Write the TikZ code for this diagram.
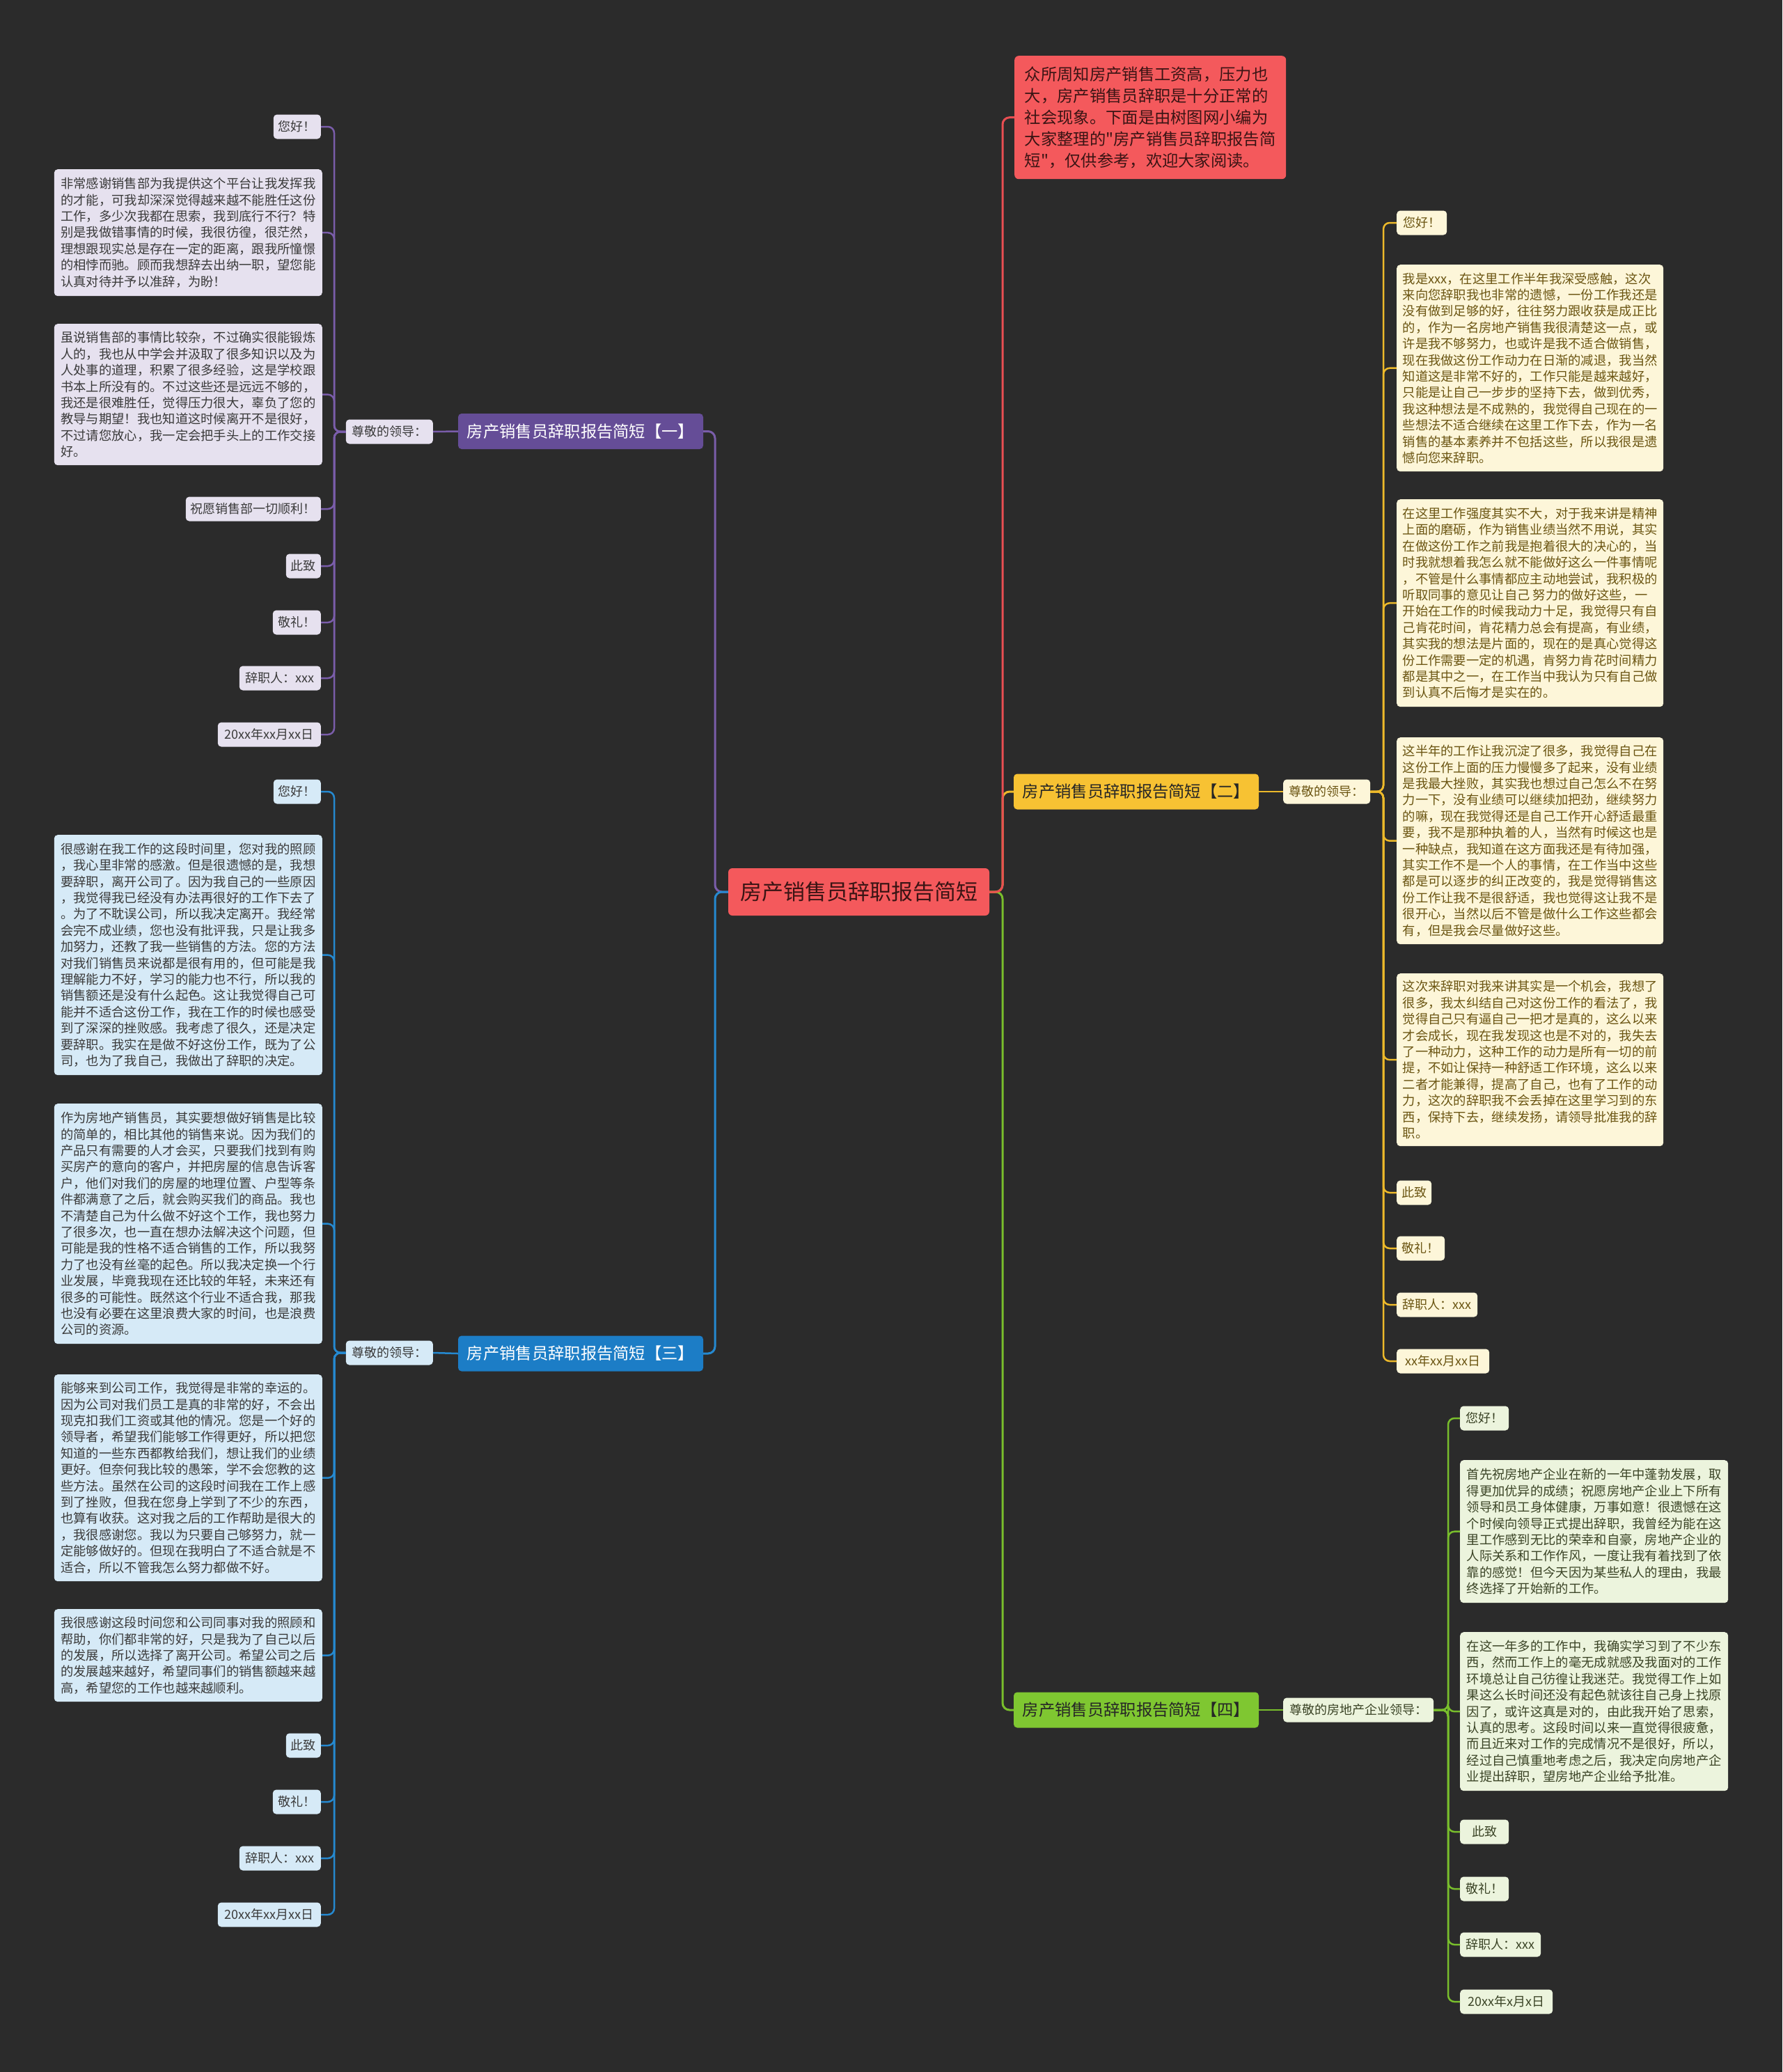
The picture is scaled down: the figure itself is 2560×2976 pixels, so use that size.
\documentclass[tikz,border=0pt]{standalone}
\usepackage{fontspec}
\newfontfamily\cjk{Noto Sans CJK SC}
\definecolor{bg}{HTML}{2B2B2B}
\definecolor{cred}{HTML}{F4595C}
\definecolor{credline}{HTML}{E84E52}
\definecolor{credtxt}{HTML}{3A1414}
\definecolor{cpur}{HTML}{654D97}
\definecolor{cpurline}{HTML}{7A5DAA}
\definecolor{cpurlt}{HTML}{E6E1EF}
\definecolor{cblu}{HTML}{1C7DC6}
\definecolor{cbluline}{HTML}{2589D0}
\definecolor{cblult}{HTML}{D6EAF7}
\definecolor{cyel}{HTML}{F7C233}
\definecolor{cyelline}{HTML}{EDB92A}
\definecolor{cyellt}{HTML}{FDF6D9}
\definecolor{cgrn}{HTML}{7FC731}
\definecolor{cgrnline}{HTML}{79BE2C}
\definecolor{cgrnlt}{HTML}{ECF4DD}
\definecolor{ctxt}{HTML}{3A3A3A}
\definecolor{cyeltxt}{HTML}{6B5512}
\definecolor{cgrntxt}{HTML}{3B4426}
\begin{document}
\begin{tikzpicture}[x=1pt,y=-1pt,
  blk/.style={rounded corners=5pt, inner xsep=7pt, inner ysep=3pt, align=left,
    font=\cjk\fontsize{18.3}{23.4}\selectfont, text=ctxt},
  lab/.style={rounded corners=5pt, inner xsep=7pt, inner ysep=0pt, minimum height=35pt,
    font=\cjk\fontsize{18}{20}\selectfont, text=ctxt},
  brn/.style={rounded corners=5pt, minimum width=352pt, minimum height=51pt, inner sep=0pt,
    font=\cjk\fontsize{23.3}{26}\selectfont},
  purb/.style={fill=cpurlt},
  blub/.style={fill=cblult},
  yelb/.style={fill=cyellt, text=cyeltxt},
  grnb/.style={fill=cgrnlt, text=cgrntxt},
  ln/.style={line width=2.5pt, rounded corners=9pt},
  mln/.style={line width=3pt, rounded corners=10pt}
]
\useasboundingbox (0,0) rectangle (2560,2976);
\fill[bg] (0,0) rectangle (2560,2976);

% ---------- centre ----------
\node[fill=cred, rounded corners=6pt, minimum width=375pt, minimum height=68pt, inner sep=0pt,
  font=\cjk\fontsize{31}{34}\selectfont, text=credtxt] (c) at (1233.5,1281) {房产销售员辞职报告简短};

% ---------- intro ----------
\node[fill=cred, rounded corners=6pt, anchor=north west, minimum width=390pt, minimum height=177pt,
  inner xsep=10pt, align=left, font=\cjk\fontsize{23.3}{31}\selectfont, text=credtxt] (intro) at (1457,80)
{众所周知房产销售工资高，压力也\\
大，房产销售员辞职是十分正常的\\
社会现象。下面是由树图网小编为\\
大家整理的"房产销售员辞职报告简\\
短"，仅供参考，欢迎大家阅读。};

% ---------- branches ----------
\node[brn, fill=cpur, text=white] (b1) at (834,619.5) {房产销售员辞职报告简短【一】};
\node[brn, fill=cblu, text=white] (b3) at (834,1944) {房产销售员辞职报告简短【三】};
\node[brn, fill=cyel, text=black!85] (b2) at (1632,1137) {房产销售员辞职报告简短【二】};
\node[brn, fill=cgrn, text=black!85] (b4) at (1632,2456) {房产销售员辞职报告简短【四】};

% ---------- labels ----------
\node[lab, purb, anchor=east, minimum width=125pt] (l1) at (622,620) {尊敬的领导：};
\node[lab, blub, anchor=east, minimum width=125pt] (l3) at (622,1943) {尊敬的领导：};
\node[lab, yelb, anchor=west, minimum width=125pt] (l2) at (1843,1137) {尊敬的领导：};
\node[lab, grnb, anchor=west, minimum width=216pt] (l4) at (1843,2456) {尊敬的房地产企业领导：};

% ---------- column 1 (purple) ----------
\node[lab, purb, anchor=east, minimum width=65pt] (p0) at (461,182) {您好！};
\node[blk, purb, anchor=north east, minimum width=385pt, minimum height=182pt] (pA) at (463,243)
{非常感谢销售部为我提供这个平台让我发挥我\\
的才能，可我却深深觉得越来越不能胜任这份\\
工作，多少次我都在思索，我到底行不行？特\\
别是我做错事情的时候，我很彷徨，很茫然，\\
理想跟现实总是存在一定的距离，跟我所憧憬\\
的相悖而驰。顾而我想辞去出纳一职，望您能\\
认真对待并予以准辞，为盼！};
\node[blk, purb, anchor=north east, minimum width=385pt, minimum height=203pt] (pB) at (463,465)
{虽说销售部的事情比较杂，不过确实很能锻炼\\
人的，我也从中学会并汲取了很多知识以及为\\
人处事的道理，积累了很多经验，这是学校跟\\
书本上所没有的。不过这些还是远远不够的，\\
我还是很难胜任，觉得压力很大，辜负了您的\\
教导与期望！我也知道这时候离开不是很好，\\
不过请您放心，我一定会把手头上的工作交接\\
好。};
\node[lab, purb, anchor=east, minimum width=194pt] (p3) at (461,731) {祝愿销售部一切顺利！};
\node[lab, purb, anchor=east, minimum width=50pt] (p4) at (461,813) {此致};
\node[lab, purb, anchor=east, minimum width=69pt] (p5) at (461,894) {敬礼！};
\node[lab, purb, anchor=east, minimum width=117pt] (p6) at (461,974) {辞职人：xxx};
\node[lab, purb, anchor=east, minimum width=148pt] (p7) at (461,1055) {20xx年xx月xx日};

% ---------- column 3 (blue) ----------
\node[lab, blub, anchor=east, minimum width=65pt] (q0) at (461,1137) {您好！};
\node[blk, blub, anchor=north east, minimum width=385pt, minimum height=345pt] (qC) at (463,1199)
{很感谢在我工作的这段时间里，您对我的照顾\\
，我心里非常的感激。但是很遗憾的是，我想\\
要辞职，离开公司了。因为我自己的一些原因\\
，我觉得我已经没有办法再很好的工作下去了\\
。为了不耽误公司，所以我决定离开。我经常\\
会完不成业绩，您也没有批评我，只是让我多\\
加努力，还教了我一些销售的方法。您的方法\\
对我们销售员来说都是很有用的，但可能是我\\
理解能力不好，学习的能力也不行，所以我的\\
销售额还是没有什么起色。这让我觉得自己可\\
能并不适合这份工作，我在工作的时候也感受\\
到了深深的挫败感。我考虑了很久，还是决定\\
要辞职。我实在是做不好这份工作，既为了公\\
司，也为了我自己，我做出了辞职的决定。};
\node[blk, blub, anchor=north east, minimum width=385pt, minimum height=345pt] (qD) at (463,1585)
{作为房地产销售员，其实要想做好销售是比较\\
的简单的，相比其他的销售来说。因为我们的\\
产品只有需要的人才会买，只要我们找到有购\\
买房产的意向的客户，并把房屋的信息告诉客\\
户，他们对我们的房屋的地理位置、户型等条\\
件都满意了之后，就会购买我们的商品。我也\\
不清楚自己为什么做不好这个工作，我也努力\\
了很多次，也一直在想办法解决这个问题，但\\
可能是我的性格不适合销售的工作，所以我努\\
力了也没有丝毫的起色。所以我决定换一个行\\
业发展，毕竟我现在还比较的年轻，未来还有\\
很多的可能性。既然这个行业不适合我，那我\\
也没有必要在这里浪费大家的时间，也是浪费\\
公司的资源。};
\node[blk, blub, anchor=north east, minimum width=385pt, minimum height=297pt] (qE) at (463,1974)
{能够来到公司工作，我觉得是非常的幸运的。\\
因为公司对我们员工是真的非常的好，不会出\\
现克扣我们工资或其他的情况。您是一个好的\\
领导者，希望我们能够工作得更好，所以把您\\
知道的一些东西都教给我们，想让我们的业绩\\
更好。但奈何我比较的愚笨，学不会您教的这\\
些方法。虽然在公司的这段时间我在工作上感\\
到了挫败，但我在您身上学到了不少的东西，\\
也算有收获。这对我之后的工作帮助是很大的\\
，我很感谢您。我以为只要自己够努力，就一\\
定能够做好的。但现在我明白了不适合就是不\\
适合，所以不管我怎么努力都做不好。};
\node[blk, blub, anchor=north east, minimum width=385pt, minimum height=133pt] (qF) at (463,2311)
{我很感谢这段时间您和公司同事对我的照顾和\\
帮助，你们都非常的好，只是我为了自己以后\\
的发展，所以选择了离开公司。希望公司之后\\
的发展越来越好，希望同事们的销售额越来越\\
高，希望您的工作也越来越顺利。};
\node[lab, blub, anchor=east, minimum width=50pt] (q4) at (461,2507) {此致};
\node[lab, blub, anchor=east, minimum width=69pt] (q5) at (461,2588) {敬礼！};
\node[lab, blub, anchor=east, minimum width=117pt] (q6) at (461,2669) {辞职人：xxx};
\node[lab, blub, anchor=east, minimum width=148pt] (q7) at (461,2750) {20xx年xx月xx日};

% ---------- column 2 (yellow) ----------
\node[lab, yelb, anchor=west, minimum width=72pt] (y0) at (2006,320) {您好！};
\node[blk, yelb, anchor=north west, minimum width=383pt, minimum height=297pt] (yA) at (2006,380)
{我是xxx，在这里工作半年我深受感触，这次\\
来向您辞职我也非常的遗憾，一份工作我还是\\
没有做到足够的好，往往努力跟收获是成正比\\
的，作为一名房地产销售我很清楚这一点，或\\
许是我不够努力，也或许是我不适合做销售，\\
现在我做这份工作动力在日渐的减退，我当然\\
知道这是非常不好的，工作只能是越来越好，\\
只能是让自己一步步的坚持下去，做到优秀，\\
我这种想法是不成熟的，我觉得自己现在的一\\
些想法不适合继续在这里工作下去，作为一名\\
销售的基本素养并不包括这些，所以我很是遗\\
憾向您来辞职。};
\node[blk, yelb, anchor=north west, minimum width=383pt, minimum height=298pt] (yB) at (2006,717)
{在这里工作强度其实不大，对于我来讲是精神\\
上面的磨砺，作为销售业绩当然不用说，其实\\
在做这份工作之前我是抱着很大的决心的，当\\
时我就想着我怎么就不能做好这么一件事情呢\\
，不管是什么事情都应主动地尝试，我积极的\\
听取同事的意见让自己 努力的做好这些，一\\
开始在工作的时候我动力十足，我觉得只有自\\
己肯花时间，肯花精力总会有提高，有业绩，\\
其实我的想法是片面的，现在的是真心觉得这\\
份工作需要一定的机遇，肯努力肯花时间精力\\
都是其中之一，在工作当中我认为只有自己做\\
到认真不后悔才是实在的。};
\node[blk, yelb, anchor=north west, minimum width=383pt, minimum height=297pt] (yC) at (2006,1059)
{这半年的工作让我沉淀了很多，我觉得自己在\\
这份工作上面的压力慢慢多了起来，没有业绩\\
是我最大挫败，其实我也想过自己怎么不在努\\
力一下，没有业绩可以继续加把劲，继续努力\\
的嘛，现在我觉得还是自己工作开心舒适最重\\
要，我不是那种执着的人，当然有时候这也是\\
一种缺点，我知道在这方面我还是有待加强，\\
其实工作不是一个人的事情，在工作当中这些\\
都是可以逐步的纠正改变的，我是觉得销售这\\
份工作让我不是很舒适，我也觉得这让我不是\\
很开心，当然以后不管是做什么工作这些都会\\
有，但是我会尽量做好这些。};
\node[blk, yelb, anchor=north west, minimum width=383pt, minimum height=248pt] (yD) at (2006,1398)
{这次来辞职对我来讲其实是一个机会，我想了\\
很多，我太纠结自己对这份工作的看法了，我\\
觉得自己只有逼自己一把才是真的，这么以来\\
才会成长，现在我发现这也是不对的，我失去\\
了一种动力，这种工作的动力是所有一切的前\\
提，不如让保持一种舒适工作环境，这么以来\\
二者才能兼得，提高了自己，也有了工作的动\\
力，这次的辞职我不会丢掉在这里学习到的东\\
西，保持下去，继续发扬，请领导批准我的辞\\
职。};
\node[lab, yelb, anchor=west, minimum width=50pt] (y4) at (2006,1713) {此致};
\node[lab, yelb, anchor=west, minimum width=69pt] (y5) at (2006,1793) {敬礼！};
\node[lab, yelb, anchor=west, minimum width=116pt] (y6) at (2006,1874) {辞职人：xxx};
\node[lab, yelb, anchor=west, minimum width=133pt] (y7) at (2006,1955) {xx年xx月xx日};

% ---------- column 4 (green) ----------
\node[lab, grnb, anchor=west, minimum width=70pt] (g0) at (2097,2037) {您好！};
\node[blk, grnb, anchor=north west, minimum width=385pt, minimum height=205pt] (gA) at (2097,2097)
{首先祝房地产企业在新的一年中蓬勃发展，取\\
得更加优异的成绩；祝愿房地产企业上下所有\\
领导和员工身体健康，万事如意！很遗憾在这\\
个时候向领导正式提出辞职，我曾经为能在这\\
里工作感到无比的荣幸和自豪，房地产企业的\\
人际关系和工作作风，一度让我有着找到了依\\
靠的感觉！但今天因为某些私人的理由，我最\\
终选择了开始新的工作。};
\node[blk, grnb, anchor=north west, minimum width=385pt, minimum height=228pt] (gB) at (2097,2344)
{在这一年多的工作中，我确实学习到了不少东\\
西，然而工作上的毫无成就感及我面对的工作\\
环境总让自己彷徨让我迷茫。我觉得工作上如\\
果这么长时间还没有起色就该往自己身上找原\\
因了，或许这真是对的，由此我开始了思索，\\
认真的思考。这段时间以来一直觉得很疲惫，\\
而且近来对工作的完成情况不是很好，所以，\\
经过自己慎重地考虑之后，我决定向房地产企\\
业提出辞职，望房地产企业给予批准。};
\node[lab, grnb, anchor=west, minimum width=70pt] (g4) at (2097,2631) {此致};
\node[lab, grnb, anchor=west, minimum width=70pt] (g5) at (2097,2713) {敬礼！};
\node[lab, grnb, anchor=west, minimum width=116pt] (g6) at (2097,2793) {辞职人：xxx};
\node[lab, grnb, anchor=west, minimum width=133pt] (g7) at (2097,2875) {20xx年x月x日};

% ---------- connectors: centre ----------
\coordinate (cl) at (1027,1281);
\coordinate (cr) at (1440,1281);
\draw[mln, cpurline] (c.west) -- (cl) |- (b1.east);
\draw[mln, cbluline] (c.west) -- (cl) |- (b3.east);
\draw[mln, cgrnline] (c.east) -- (cr) |- (b4.west);
\draw[mln, cyelline] (c.east) -- (cr) |- (b2.west);
\draw[mln, credline] (c.east) -- (cr) |- (intro.west);

% ---------- connectors: branch to label ----------
\draw[ln, cpurline] (b1.west) -- (l1.east);
\draw[ln, cbluline] (b3.west) -- (l3.east);
\draw[ln, cyelline] (b2.east) -- (l2.west);
\draw[ln, cgrnline] (b4.east) -- (l4.west);

% ---------- connectors: column 1 ----------
\coordinate (t1) at (480,620);
\foreach \n in {p0,pA,pB,p3,p4,p5,p6,p7}
  \draw[ln, cpurline] (l1.west) -- (t1) |- (\n.east);
% ---------- column 3 ----------
\coordinate (t3) at (480,1943);
\foreach \n in {q0,qC,qD,qE,qF,q4,q5,q6,q7}
  \draw[ln, cbluline] (l3.west) -- (t3) |- (\n.east);
% ---------- column 2 ----------
\coordinate (t2) at (1987,1137);
\foreach \n in {y0,yA,yB,yC,yD,y4,y5,y6,y7}
  \draw[ln, cyelline] (l2.east) -- (t2) |- (\n.west);
% ---------- column 4 ----------
\coordinate (t4) at (2080,2456);
\foreach \n in {g0,gA,gB,g4,g5,g6,g7}
  \draw[ln, cgrnline] (l4.east) -- (t4) |- (\n.west);
\end{tikzpicture}
\end{document}
